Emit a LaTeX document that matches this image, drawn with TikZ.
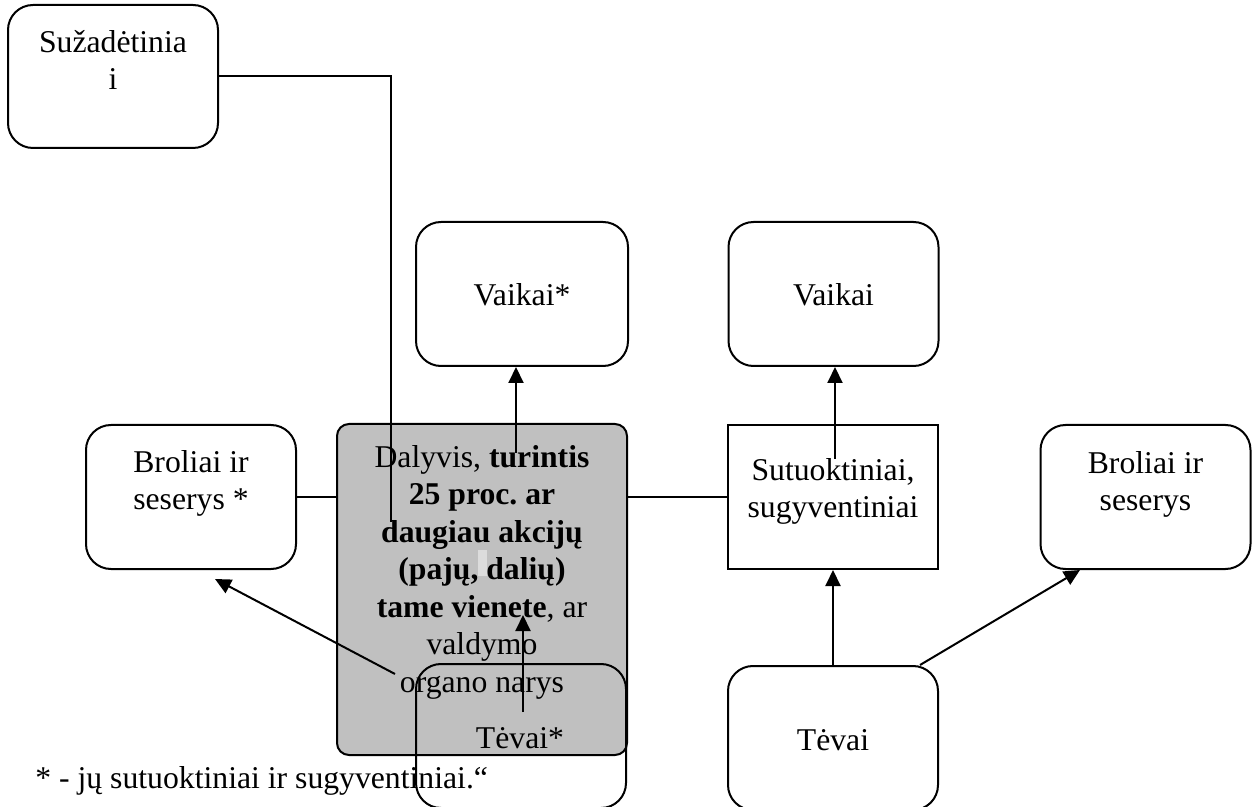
\documentclass[tikz,border=0pt]{standalone}
\usepackage{fontspec}
\setmainfont{Liberation Serif}
\usetikzlibrary{arrows.meta}
\definecolor{boxgray}{HTML}{C0C0C0}
\definecolor{hilite}{HTML}{DCDCDC}
\newcommand\lbfont{\fontsize{15.85pt}{18.75pt}\selectfont\frenchspacing}
\newcommand\tstr{\rule{0pt}{15pt}}
\begin{document}
\begin{tikzpicture}[x=0.5pt,y=-0.5pt,
  box/.style={draw, line width=1pt, rounded corners=12.5pt, minimum width=105pt, minimum height=72pt, inner sep=0pt},
  sqbox/.style={draw, line width=1pt, minimum width=105pt, minimum height=72pt, inner sep=0pt},
  graybox/.style={draw, line width=1pt, fill=boxgray, rounded corners=6pt, minimum width=145pt, minimum height=165.5pt, inner sep=0pt},
  lbl/.style={inner sep=0pt, align=center, font=\lbfont, anchor=north},
  one/.style={inner sep=0pt, font=\lbfont, anchor=base},
  conn/.style={line width=1pt},
  arr/.style={line width=1pt, -{Triangle[width=7.5pt,length=8pt]}}]
\useasboundingbox (0,0) rectangle (1253,807);
\fill[white] (0,0) rectangle (1253,807);

% central grey box
\node[graybox] (gray) at (482,589.5) {};
\fill[hilite] (478,550) rectangle (487,576);
\node[lbl] (grayT) at (482,437) {\tstr Dalyvis, \textbf{turintis}\\\textbf{25 proc. ar}\\\textbf{daugiau akcijų}\\\textbf{(pajų, dalių)}\\\textbf{tame vienete}, ar\\valdymo\\organo narys};

% boxes
\node[box, minimum height=71.5pt] (suz) at (113,76.5) {};
\node[lbl] (suzT) at (113,22) {\tstr Sužadėtinia\\i};
\node[box, minimum width=106pt] (vk1) at (522,294) {};
\node[one] (vk1T) at (522,306) {Vaikai*};
\node[box] (vk2) at (833.5,294) {};
\node[one] (vk2T) at (833.5,306) {Vaikai};
\node[box] (br1) at (191,497) {};
\node[lbl] (br1T) at (191,442) {\tstr Broliai ir\\seserys *};
\node[sqbox] (sut) at (833,497) {};
\node[lbl] (sutT) at (833,450) {\tstr Sutuoktiniai,\\sugyventiniai};
\node[box] (br2) at (1145.5,497) {};
\node[lbl] (br2T) at (1145.5,443) {\tstr Broliai ir\\seserys};
\node[box] (tev2) at (833,738) {};
\node[one] (tev2T) at (833,750) {Tėvai};
\node[box] (tev1) at (521,736) {};
\node[one] (tev1T) at (520,748) {Tėvai*};
\node[one, anchor=base west] (foot) at (35,788) {* - jų sutuoktiniai ir sugyventiniai.“};

% free ends
\coordinate (c1) at (391,522);
\coordinate (a1) at (516,453);
\coordinate (a2) at (835,459);
\coordinate (a3) at (523,615);
\coordinate (a4) at (523,712);
\coordinate (a5) at (395,674);

% connectors
\draw[conn] (suz.east) -| (c1);
\draw[arr] (a1) -- (a1 |- vk1.south);
\draw[arr] (a2) -- (a2 |- vk2.south);
\draw[conn] (br1.east) -- (br1.east -| gray.west);
\draw[conn] (sut.west -| gray.east) -- (sut.west);
\draw[arr] (tev2.north) -- (sut.south);
\draw[arr] ([xshift=43.5pt]tev2.north) -- ([xshift=-32.75pt]br2.south);
\draw[arr] (a4) -- (a3);
\draw[arr] (a5) -- ([shift={(12pt,-4.5pt)}]br1.south);
\end{tikzpicture}
\end{document}
